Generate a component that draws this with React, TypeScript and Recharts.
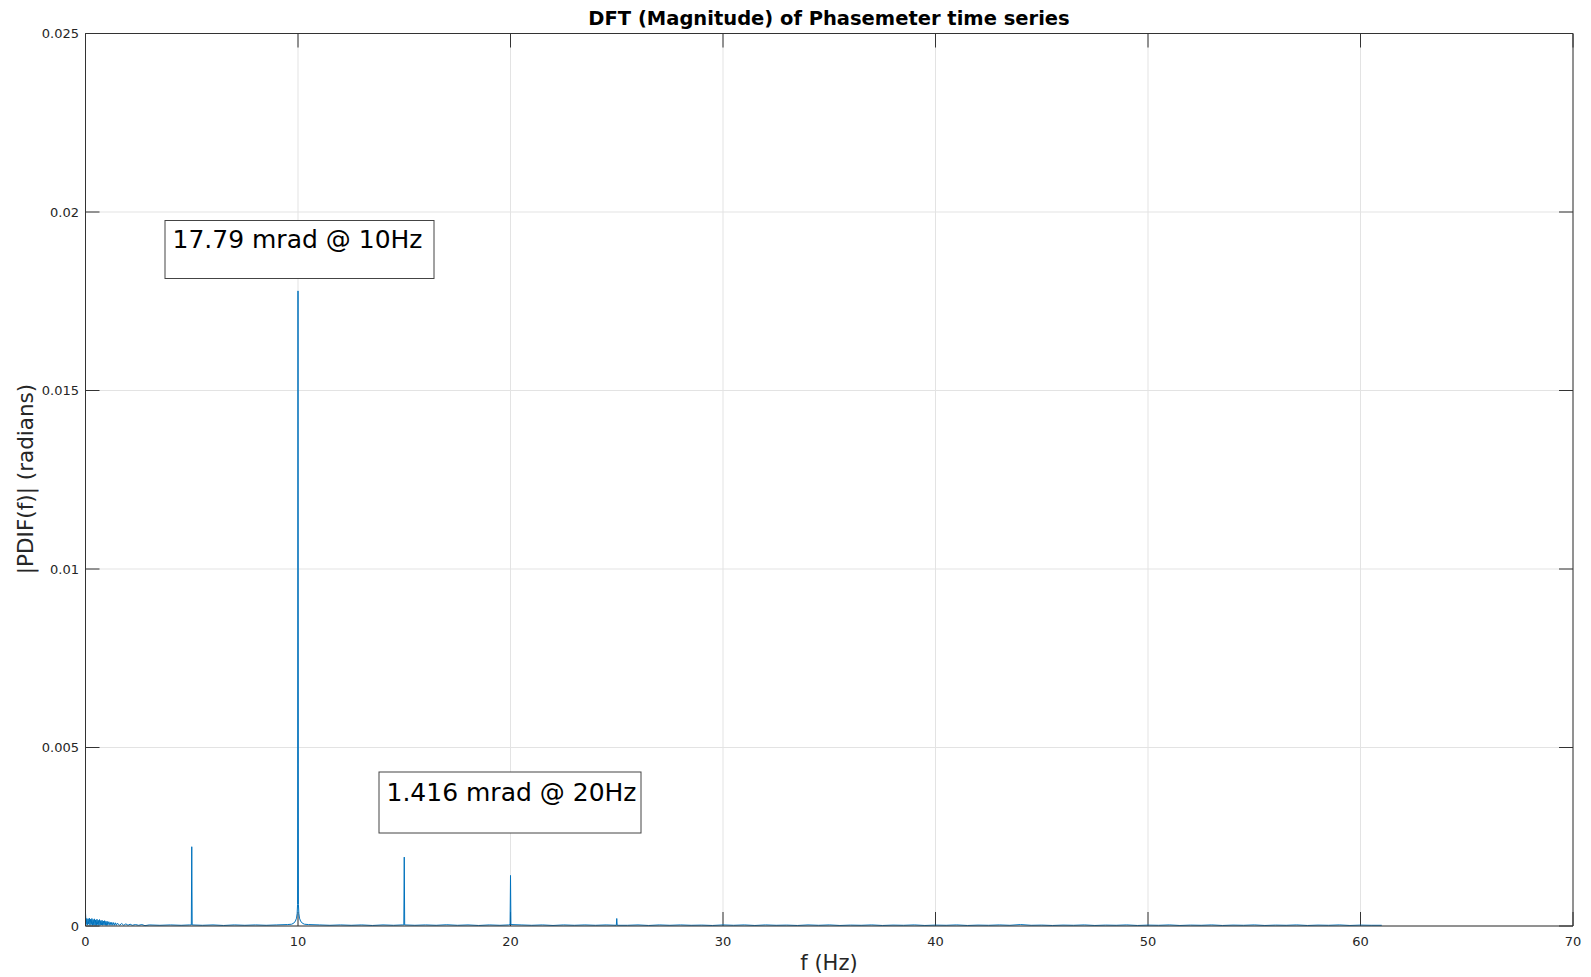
import { LineChart, Line, XAxis, YAxis, CartesianGrid, ReferenceLine } from "recharts";

// spectrum: [frequency Hz, |PDIF(f)| radians]
const lowBand: [number, number][] = [
  [0.0, 0.00036], [0.03, 0.00004], [0.06, 0.00021], [0.09, 0.00003], [0.12, 0.0002],
  [0.15, 0.00005], [0.18, 0.00022], [0.21, 0.00002], [0.24, 0.00019], [0.27, 0.00004],
  [0.3, 0.00021], [0.33, 0.00002], [0.36, 0.00018], [0.39, 0.00003], [0.42, 0.0002],
  [0.45, 0.00002], [0.48, 0.00017], [0.51, 0.00002], [0.54, 0.00019], [0.57, 0.00004],
  [0.6, 0.00016], [0.63, 0.00002], [0.66, 0.00018], [0.69, 0.00002], [0.72, 0.00015],
  [0.75, 0.00003], [0.78, 0.00016], [0.81, 0.00002], [0.84, 0.00014], [0.87, 0.00003],
  [0.9, 0.00015], [0.93, 0.00002], [0.96, 0.00013], [0.99, 0.00002], [1.02, 0.00013],
  [1.05, 0.00002], [1.1, 0.00012], [1.15, 0.00002], [1.2, 0.00011], [1.25, 0.00002],
  [1.3, 0.0001], [1.35, 0.00002], [1.4, 0.00009], [1.45, 0.00002], [1.5, 0.00008],
  [1.6, 0.00002], [1.7, 0.00007], [1.8, 0.00002], [1.9, 0.00006], [2.0, 0.00002],
  [2.1, 0.00005], [2.2, 0.00002], [2.35, 0.00004], [2.5, 0.00002], [2.65, 0.00004],
  [2.8, 0.00001], [3.0, 0.00003],
];

const floor: [number, number][] = [
  [3.5, 0.00002], [4.0, 0.00003], [4.5, 0.00002], [4.9, 0.00003],
  [5.5, 0.00002], [6.0, 0.00003], [6.5, 0.000015], [7.0, 0.00003], [7.5, 0.00002],
  [8.0, 0.00003], [8.5, 0.00002], [9.0, 0.00003], [9.5, 0.00004],
  [10.5, 0.00004], [11.0, 0.00003], [11.5, 0.00002], [12.0, 0.00003], [12.5, 0.00002],
  [13.0, 0.00003], [13.5, 0.000015], [14.0, 0.00003], [14.5, 0.00002], [14.9, 0.00003],
  [15.5, 0.00002], [16.0, 0.00003], [16.5, 0.00002], [17.0, 0.000035], [17.5, 0.00002],
  [18.0, 0.00003], [18.5, 0.000015], [19.0, 0.00003], [19.5, 0.00002], [19.9, 0.00003],
  [20.5, 0.00003], [21.0, 0.00002], [21.5, 0.00003], [22.0, 0.000015], [22.5, 0.00003],
  [23.0, 0.00002], [23.5, 0.00003], [24.0, 0.00002], [24.5, 0.00003],
  [25.5, 0.00002], [26.0, 0.00003], [26.5, 0.000015], [27.0, 0.00003], [27.5, 0.00002],
  [28.0, 0.00003], [28.5, 0.00002], [29.0, 0.000025], [29.5, 0.000015], [30.0, 0.00003],
  [30.5, 0.00002], [31.0, 0.00003], [31.5, 0.000015], [32.0, 0.00003], [32.5, 0.00002],
  [33.0, 0.000025], [33.5, 0.000015], [34.0, 0.00003], [34.5, 0.00002], [35.0, 0.00003],
  [35.5, 0.000015], [36.0, 0.000025], [36.5, 0.00002], [37.0, 0.00003], [37.5, 0.000015],
  [38.0, 0.000025], [38.5, 0.00002], [39.0, 0.00003], [39.5, 0.000015], [40.0, 0.000025],
  [40.5, 0.00002], [41.0, 0.00003], [41.5, 0.000015], [42.0, 0.000025], [42.5, 0.00002],
  [43.0, 0.00003], [43.5, 0.00002], [44.0, 0.00004], [44.5, 0.00002], [45.0, 0.000025],
  [45.5, 0.000015], [46.0, 0.000025], [46.5, 0.00002], [47.0, 0.00003], [47.5, 0.000015],
  [48.0, 0.000025], [48.5, 0.00002], [49.0, 0.00003], [49.5, 0.000015], [50.0, 0.000025],
  [50.5, 0.00002], [51.0, 0.00003], [51.5, 0.000015], [52.0, 0.000025], [52.5, 0.00002],
  [53.0, 0.00003], [53.5, 0.000015], [54.0, 0.000025], [54.5, 0.00002], [55.0, 0.00003],
  [55.5, 0.000015], [56.0, 0.000025], [56.5, 0.00002], [57.0, 0.00003], [57.5, 0.000015],
  [58.0, 0.000025], [58.5, 0.00002], [59.0, 0.00003], [59.5, 0.000015], [60.0, 0.000025],
  [60.5, 0.00002], [61.0, 0.00002],
];

const peak5: [number, number][] = [[4.98, 0.00003], [5.0, 0.00222], [5.02, 0.00003]];
const peak10: [number, number][] = [
  [9.7, 0.00005], [9.8, 0.00008], [9.88, 0.00014], [9.93, 0.00022], [9.96, 0.00035],
  [9.98, 0.0006], [10.0, 0.01779], [10.02, 0.0006], [10.04, 0.00035], [10.07, 0.00022],
  [10.12, 0.00014], [10.2, 0.00008], [10.3, 0.00005],
];
const peak15: [number, number][] = [[14.98, 0.00003], [15.0, 0.00193], [15.02, 0.00003]];
const peak20: [number, number][] = [[19.98, 0.00004], [20.0, 0.001416], [20.02, 0.00004]];
const peak25: [number, number][] = [[24.98, 0.00002], [25.0, 0.00021], [25.02, 0.00002]];

const xTicks = [0, 10, 20, 30, 40, 50, 60, 70];
const yTicks = [0, 0.005, 0.01, 0.015, 0.02, 0.025];

const title = "DFT (Magnitude) of Phasemeter time series";
const xLabel = "f (Hz)";
const yLabel = "|PDIF(f)| (radians)";
const notes = ["17.79 mrad @ 10Hz", "1.416 mrad @ 20Hz"];

const data = [...lowBand, ...floor, ...peak5, ...peak10, ...peak15, ...peak20, ...peak25]
  .sort((a, b) => a[0] - b[0])
  .map(([f, v]) => ({ f, v }));

const W = 1591, H = 977;
const FONT = "DejaVu Sans";
const tickStyle = { fontSize: 13, fill: "#262626", fontFamily: FONT };
const AX = "#333";
const X0 = 0, X1 = 70, Y0 = 0, Y1 = 0.025;
// inner tick length (14px) in data units
const TX = 14 * (X1 - X0) / 1487.5;
const TY = 14 * (Y1 - Y0) / 892.5;

export default function App() {
  return (
    <div style={{ position: "absolute", left: 0, top: 0, width: W, height: H, background: "#fff" }}>
      <LineChart width={W} height={H} data={data} margin={{ top: 33.5, right: 18, bottom: 21, left: 0 }}>
        <CartesianGrid xAxisId="b" yAxisId="l" stroke="#e3e3e3" strokeWidth={1} />
        <XAxis xAxisId="b" dataKey="f" type="number" domain={[X0, X1]} ticks={xTicks} interval={0}
          height={30} tickLine={false} tickMargin={5} tick={tickStyle}
          axisLine={{ stroke: AX }} />
        <YAxis yAxisId="l" type="number" domain={[Y0, Y1]} ticks={yTicks} interval={0}
          width={85.5} tickLine={false} tickMargin={0.5} tick={tickStyle}
          axisLine={{ stroke: AX }} />
        <ReferenceLine xAxisId="b" yAxisId="l" y={Y1} stroke={AX} />
        <ReferenceLine xAxisId="b" yAxisId="l" x={X1} stroke={AX} />
        {xTicks.map((t) => (
          <ReferenceLine key={"xb" + t} xAxisId="b" yAxisId="l" stroke={AX}
            segment={[{ x: t, y: Y0 }, { x: t, y: Y0 + TY }]} />
        ))}
        {xTicks.map((t) => (
          <ReferenceLine key={"xt" + t} xAxisId="b" yAxisId="l" stroke={AX}
            segment={[{ x: t, y: Y1 }, { x: t, y: Y1 - TY }]} />
        ))}
        {yTicks.map((t) => (
          <ReferenceLine key={"yl" + t} xAxisId="b" yAxisId="l" stroke={AX}
            segment={[{ x: X0, y: t }, { x: X0 + TX, y: t }]} />
        ))}
        {yTicks.map((t) => (
          <ReferenceLine key={"yr" + t} xAxisId="b" yAxisId="l" stroke={AX}
            segment={[{ x: X1, y: t }, { x: X1 - TX, y: t }]} />
        ))}
        <Line xAxisId="b" yAxisId="l" type="linear" dataKey="v" stroke="#0072BD" strokeWidth={1}
          dot={false} isAnimationActive={false} />
      </LineChart>
      <svg width={W} height={H} style={{ position: "absolute", left: 0, top: 0, pointerEvents: "none" }}
        fontFamily={FONT}>
        <text x={829} y={25} textAnchor="middle" fontSize={19.5} fontWeight="bold" fill="#000">{title}</text>
        <text x={829} y={970} textAnchor="middle" fontSize={21} fill="#262626">{xLabel}</text>
        <text transform="translate(32.5 479) rotate(-90)" textAnchor="middle" fontSize={21.5} fill="#262626">{yLabel}</text>
        <rect x={165} y={220.5} width={269} height={58} fill="#fff" stroke="#444" strokeWidth={1} />
        <text x={172.5} y={248} fontSize={25} fill="#000">{notes[0]}</text>
        <rect x={379} y={772} width={262} height={61} fill="#fff" stroke="#444" strokeWidth={1} />
        <text x={386.5} y={801} fontSize={25} fill="#000">{notes[1]}</text>
      </svg>
    </div>
  );
}
